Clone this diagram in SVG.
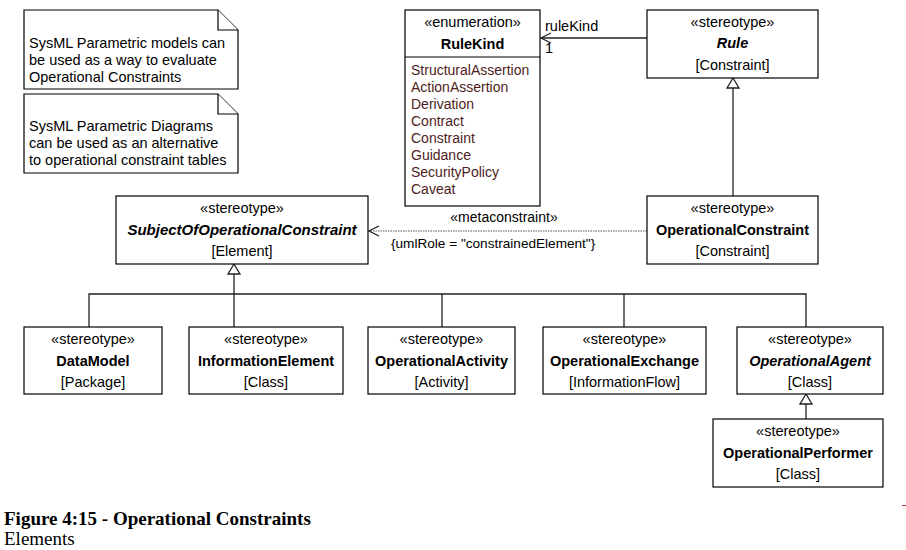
<svg xmlns="http://www.w3.org/2000/svg" width="906" height="550" viewBox="0 0 906 550">
<defs>
<style>
.box{fill:#fff;stroke:#000;stroke-width:1.2}
.t{font-family:"Liberation Sans",Arial,sans-serif;font-size:14.5px;fill:#000}
.c{text-anchor:middle}
.b{font-weight:bold}
.i{font-style:italic}
.attr{fill:#4e1c1c;font-size:14px}
.ln{fill:none;stroke:#222;stroke-width:1.3}
.dot{fill:none;stroke:#555;stroke-width:1;stroke-dasharray:1.5 1}
.gen{fill:#fff;stroke:#222;stroke-width:1.3}
.cap{font-family:"Liberation Serif","Times New Roman",serif;font-size:19px;fill:#000}
</style>
<marker id="open" markerWidth="12" markerHeight="12" refX="11" refY="6" orient="auto" markerUnits="userSpaceOnUse">
<path d="M1,1 L11,6 L1,11" fill="none" stroke="#222" stroke-width="1.2"/>
</marker>
</defs>
<rect width="906" height="550" fill="#fff"/>

<g id="note1">
<path class="box" d="M24,10 H218 L238,30 V89 H24 Z"/>
<path class="box" d="M218,10 V30 H238" fill="none"/>
<text class="t" x="29" y="48">SysML Parametric models can</text>
<text class="t" x="29" y="65">be used as a way to evaluate</text>
<text class="t" x="29" y="82">Operational Constraints</text>
</g>
<g id="note2">
<path class="box" d="M24,94 H218 L238,114 V173 H24 Z"/>
<path class="box" d="M218,94 V114 H238" fill="none"/>
<text class="t" x="29" y="131">SysML Parametric Diagrams</text>
<text class="t" x="29" y="148">can be used as an alternative</text>
<text class="t" x="29" y="165">to operational constraint tables</text>
</g>

<g id="connectors">
<line class="ln" x1="647" y1="38" x2="541" y2="38" marker-end="url(#open)"/>
<text class="t" x="545" y="31">ruleKind</text>
<text class="t" x="545" y="53">1</text>
<line class="ln" x1="733" y1="196" x2="733" y2="88"/>
<path class="gen" d="M733,78 L727,88 L739,88 Z"/>
<line class="dot" x1="647" y1="231" x2="369" y2="231" marker-end="url(#open)"/>
<text class="t c" x="504" y="222" style="font-size:14px">«metaconstraint»</text>
<text class="t" x="391" y="248" style="font-size:13.6px">{umlRole = "constrainedElement"}</text>
<line class="ln" x1="234" y1="274" x2="234" y2="327"/>
<path class="gen" d="M234,264 L228,274 L240,274 Z"/>
<polyline class="ln" points="89,327 89,294 806,294 806,327"/>
<line class="ln" x1="442" y1="294" x2="442" y2="327"/>
<line class="ln" x1="624" y1="294" x2="624" y2="327"/>
<line class="ln" x1="806" y1="404" x2="806" y2="419"/>
<path class="gen" d="M806,394 L800,404 L812,404 Z"/>
</g>

<g id="RuleKind">
<rect class="box" x="405" y="10" width="135" height="196"/>
<line class="box" x1="405" y1="57" x2="540" y2="57"/>
<text class="t c" x="472.5" y="27">«enumeration»</text>
<text class="t c b" x="472.5" y="49">RuleKind</text>
<text class="t attr" x="411" y="75">StructuralAssertion</text>
<text class="t attr" x="411" y="92">ActionAssertion</text>
<text class="t attr" x="411" y="109">Derivation</text>
<text class="t attr" x="411" y="126">Contract</text>
<text class="t attr" x="411" y="143">Constraint</text>
<text class="t attr" x="411" y="160">Guidance</text>
<text class="t attr" x="411" y="177">SecurityPolicy</text>
<text class="t attr" x="411" y="194">Caveat</text>
</g>

<g id="Rule">
<rect class="box" x="647" y="10" width="171" height="68"/>
<text class="t c" x="732.5" y="27">«stereotype»</text>
<text class="t c b i" x="732.5" y="48">Rule</text>
<text class="t c" x="732.5" y="70">[Constraint]</text>
</g>

<g id="OperationalConstraint">
<rect class="box" x="647" y="196" width="171" height="68"/>
<text class="t c" x="732.5" y="213">«stereotype»</text>
<text class="t c b" x="732.5" y="235">OperationalConstraint</text>
<text class="t c" x="732.5" y="256">[Constraint]</text>
</g>

<g id="SubjectOfOperationalConstraint">
<rect class="box" x="116" y="196" width="252" height="68"/>
<text class="t c" x="242" y="213">«stereotype»</text>
<text class="t c b i" x="242" y="235" style="font-size:15px">SubjectOfOperationalConstraint</text>
<text class="t c" x="242" y="256">[Element]</text>
</g>

<g id="DataModel">
<rect class="box" x="24" y="327" width="138" height="67"/>
<text class="t c" x="93" y="344">«stereotype»</text>
<text class="t c b" x="93" y="366">DataModel</text>
<text class="t c" x="93" y="387">[Package]</text>
</g>

<g id="InformationElement">
<rect class="box" x="189" y="327" width="154" height="67"/>
<text class="t c" x="266" y="344">«stereotype»</text>
<text class="t c b" x="266" y="366">InformationElement</text>
<text class="t c" x="266" y="387">[Class]</text>
</g>

<g id="OperationalActivity">
<rect class="box" x="368" y="327" width="147" height="67"/>
<text class="t c" x="441.5" y="344">«stereotype»</text>
<text class="t c b" x="441.5" y="366">OperationalActivity</text>
<text class="t c" x="441.5" y="387">[Activity]</text>
</g>

<g id="OperationalExchange">
<rect class="box" x="543" y="327" width="163" height="67"/>
<text class="t c" x="624.5" y="344">«stereotype»</text>
<text class="t c b" x="624.5" y="366">OperationalExchange</text>
<text class="t c" x="624.5" y="387">[InformationFlow]</text>
</g>

<g id="OperationalAgent">
<rect class="box" x="737" y="327" width="146" height="67"/>
<text class="t c" x="810" y="344">«stereotype»</text>
<text class="t c b i" x="810" y="366">OperationalAgent</text>
<text class="t c" x="810" y="387">[Class]</text>
</g>

<g id="OperationalPerformer">
<rect class="box" x="713" y="419" width="170" height="68"/>
<text class="t c" x="798" y="436">«stereotype»</text>
<text class="t c b" x="798" y="458">OperationalPerformer</text>
<text class="t c" x="798" y="479">[Class]</text>
</g>

<line x1="902" y1="505.5" x2="906" y2="505.5" stroke="#b04040" stroke-width="1"/>

<text class="cap" x="4" y="525" font-weight="bold">Figure 4:15 - Operational Constraints</text>
<text class="cap" x="4" y="545">Elements</text>
</svg>
